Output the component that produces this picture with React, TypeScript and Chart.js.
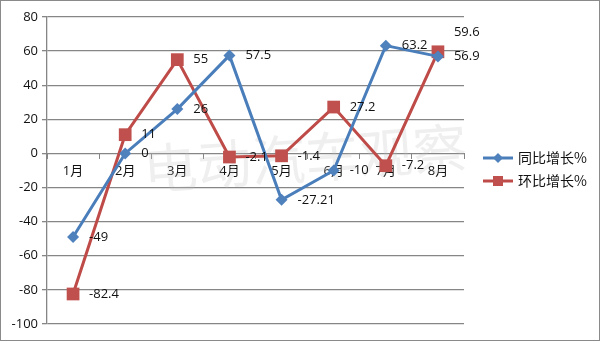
import React, { useEffect, useRef } from "react";
import { Chart, registerables } from "chart.js";

Chart.register(...registerables);

const categories = ["1月", "2月", "3月", "4月", "5月", "6月", "7月", "8月"];
const yoyLabel = "同比增长%";
const momLabel = "环比增长%";
const yoyValues = [-49, 0, 26, 57.5, -27.21, -10, 63.2, 56.9];
const momValues = [-82.4, 11, 55, -2.1, -1.4, 27.2, -7.2, 59.6];
const yMin = -100;
const yMax = 80;
const yStep = 20;
const watermarkText = "电动汽车观察";

const BLUE = "#4A7EBB";
const BLUE_FILL = "#4F81BD";
const RED = "#BE4B48";
const RED_FILL = "#C0504D";
const FONT = "'Open Sans', 'Noto Sans CJK SC', sans-serif";
const CJK_FONT = "'Noto Sans CJK SC', sans-serif";

const decorPlugin = {
  id: "decor",
  beforeDatasetsDraw(chart: any) {
    const ctx = chart.ctx;
    ctx.save();
    ctx.translate(305, 158);
    ctx.rotate((-4 * Math.PI) / 180);
    ctx.font = `54px ${CJK_FONT}`;
    ctx.fillStyle = "rgba(190,190,190,0.25)";
    ctx.textAlign = "center";
    ctx.textBaseline = "middle";
    ctx.fillText(watermarkText, 0, 0);
    ctx.restore();
  },
  afterDatasetsDraw(chart: any) {
    const ctx = chart.ctx;
    ctx.save();
    ctx.font = `13px ${FONT}`;
    ctx.fillStyle = "#111";
    ctx.textAlign = "left";
    ctx.textBaseline = "middle";
    chart.data.datasets.forEach((ds: any, di: number) => {
      const meta = chart.getDatasetMeta(di);
      meta.data.forEach((pt: any, i: number) => {
        const v = ds.data[i];
        let dy = 0;
        if (di === 1 && i === ds.data.length - 1) dy = -19;
        ctx.fillText(String(v), pt.x + 16, pt.y + dy);
      });
    });
    ctx.restore();
  },
  afterDraw(chart: any) {
    const ctx = chart.ctx;
    ctx.save();
    const items = [
      { label: yoyLabel, color: BLUE, fill: BLUE_FILL, style: "diamond", y: 158 },
      { label: momLabel, color: RED, fill: RED_FILL, style: "square", y: 181 },
    ];
    items.forEach((it) => {
      ctx.strokeStyle = it.color;
      ctx.lineWidth = 3;
      ctx.beginPath();
      ctx.moveTo(483, it.y);
      ctx.lineTo(513, it.y);
      ctx.stroke();
      ctx.fillStyle = it.fill;
      ctx.beginPath();
      if (it.style === "diamond") {
        ctx.moveTo(498, it.y - 5);
        ctx.lineTo(503, it.y);
        ctx.lineTo(498, it.y + 5);
        ctx.lineTo(493, it.y);
        ctx.closePath();
      } else {
        ctx.rect(493, it.y - 5, 10, 10);
      }
      ctx.fill();
      ctx.fillStyle = "#111";
      ctx.font = `14px ${CJK_FONT}`;
      ctx.textAlign = "left";
      ctx.textBaseline = "middle";
      ctx.fillText(it.label, 518, it.y);
    });
    ctx.strokeStyle = "#8a8a8a";
    ctx.lineWidth = 1;
    ctx.strokeRect(0.5, 0.5, chart.width - 1, chart.height - 1);
    ctx.restore();
  },
};

export default function App() {
  const ref = useRef<HTMLCanvasElement | null>(null);

  useEffect(() => {
    if (!ref.current) return;
    const chart = new Chart(ref.current, {
      type: "line",
      data: {
        labels: categories,
        datasets: [
          {
            label: yoyLabel,
            data: yoyValues,
            borderColor: BLUE,
            backgroundColor: BLUE_FILL,
            borderWidth: 3,
            pointStyle: "rectRot",
            pointRadius: 6,
            pointBorderWidth: 0,
            pointBackgroundColor: BLUE_FILL,
            tension: 0,
          },
          {
            label: momLabel,
            data: momValues,
            borderColor: RED,
            backgroundColor: RED_FILL,
            borderWidth: 3,
            pointStyle: "rect",
            pointRadius: 9,
            pointBorderWidth: 0,
            pointBackgroundColor: RED_FILL,
            tension: 0,
          },
        ],
      },
      options: {
        animation: false,
        responsive: false,
        layout: { padding: { left: 0, right: 136, top: 17, bottom: 17 } },
        plugins: {
          legend: { display: false },
          tooltip: { enabled: false },
        },
        scales: {
          x: {
            type: "category",
            position: { y: 0 },
            offset: true,
            grid: {
              offset: true,
              drawOnChartArea: false,
              drawTicks: true,
              tickLength: 5,
              color: "#868686",
              lineWidth: 1,
            },
            border: { display: true, color: "#868686", width: 1 },
            ticks: {
              color: "#111",
              font: { family: FONT, size: 13 },
              padding: 5,
              maxRotation: 0,
              autoSkip: false,
            },
            afterFit(scale: any) {
              scale.height = 0;
            },
          },
          y: {
            min: yMin,
            max: yMax,
            ticks: {
              stepSize: yStep,
              color: "#111",
              font: { family: FONT, size: 13 },
              padding: 4,
            },
            grid: {
              color: "#868686",
              lineWidth: 1.3,
              drawTicks: true,
              tickLength: 5,
            },
            border: { display: true, color: "#868686", width: 1.3 },
            afterFit(scale: any) {
              scale.width = 47;
            },
          },
        },
      },
      plugins: [decorPlugin],
    });
    return () => chart.destroy();
  }, []);

  return (
    <div style={{ position: "absolute", left: 0, top: 0, width: 600, height: 341, background: "#fff" }}>
      <canvas ref={ref} width={600} height={341} style={{ display: "block" }} />
    </div>
  );
}
